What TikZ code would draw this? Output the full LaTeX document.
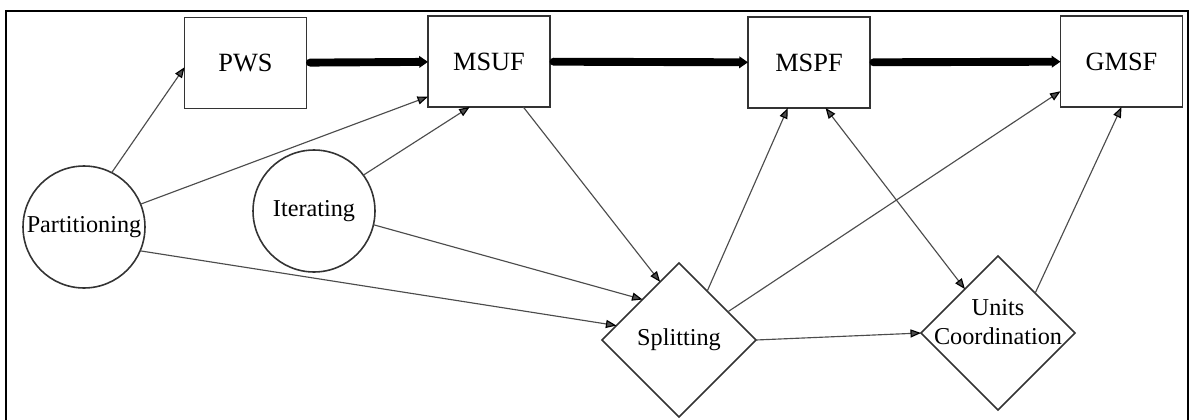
\documentclass[tikz,border=0pt]{standalone}
\usepackage{fontspec}
\setmainfont{Liberation Serif}
\usetikzlibrary{shapes.geometric,arrows.meta}

\tikzset{
  unit/.style={draw=black!80,line width=0.9pt,minimum width=2.44cm,minimum height=1.82cm,
    inner sep=0pt,outer sep=0pt,font=\fontsize{15}{18}\selectfont},
  task/.style={circle,draw=black!80,line width=0.9pt,minimum size=2.44cm,
    inner sep=0pt,outer sep=0pt,font=\fontsize{13.8}{16}\selectfont},
  choice/.style={diamond,draw=black!80,line width=0.9pt,minimum width=3.08cm,minimum height=3.08cm,
    aspect=1,inner sep=0pt,outer sep=0pt,font=\fontsize{13.8}{16.5}\selectfont},
  flow/.style={line width=4.5pt,line cap=round,shorten <=2pt,-{Triangle[length=5pt,width=6.5pt]}},
  link/.style={line width=0.65pt,black!70,>={Triangle[length=6pt,width=4.6pt,color=black]}},
}

\begin{document}
\begin{tikzpicture}[x=0.02cm,y=-0.02cm]
        \useasboundingbox (0,0) rectangle (1192,419);
        \draw[line width=1.1pt] (6,430) -- (6,11) -- (1188,11) -- (1188,430);

        % functions
        \node[unit] (pws)  at (245.5,63)  {PWS};
        \node[unit] (msuf) at (489,61.5)  {MSUF};
        \node[unit] (mspf) at (809,62.5)  {MSPF};
        \node[unit] (gmsf) at (1121.5,61.5) {GMSF};

        % activities
        \node[task] (part) at (84,227)  {Partitioning};
        \node[task] (iter) at (314,211) {Iterating};
        \node[choice] (split) at (679,340) {Splitting};
        \node[choice,label={[align=center,yshift=0.22cm,font=\fontsize{13.8}{16.5}\selectfont]center:Units\\Coordination}]
                (units) at (998,333) {};

        \path[flow]
                (pws) edge (msuf)
                (msuf) edge (mspf)
                (mspf) edge (gmsf);

        \path[link,->]
                (part.63) edge (pws.184)
                (part.22) edge (msuf.210)
                (part.-23) edge (split.167)
                (iter.36) edge (msuf.247)
                (iter.-13) edge (split.132)
                (msuf.307) edge (split.108)
                (split.60) edge (mspf.245)
                (split.30) edge (gmsf.206)
                (split.east) edge (units.west)
                (units.47) edge (gmsf.south);
        \path[link,<->] (mspf.290) edge (units.127);
\end{tikzpicture}
\end{document}
